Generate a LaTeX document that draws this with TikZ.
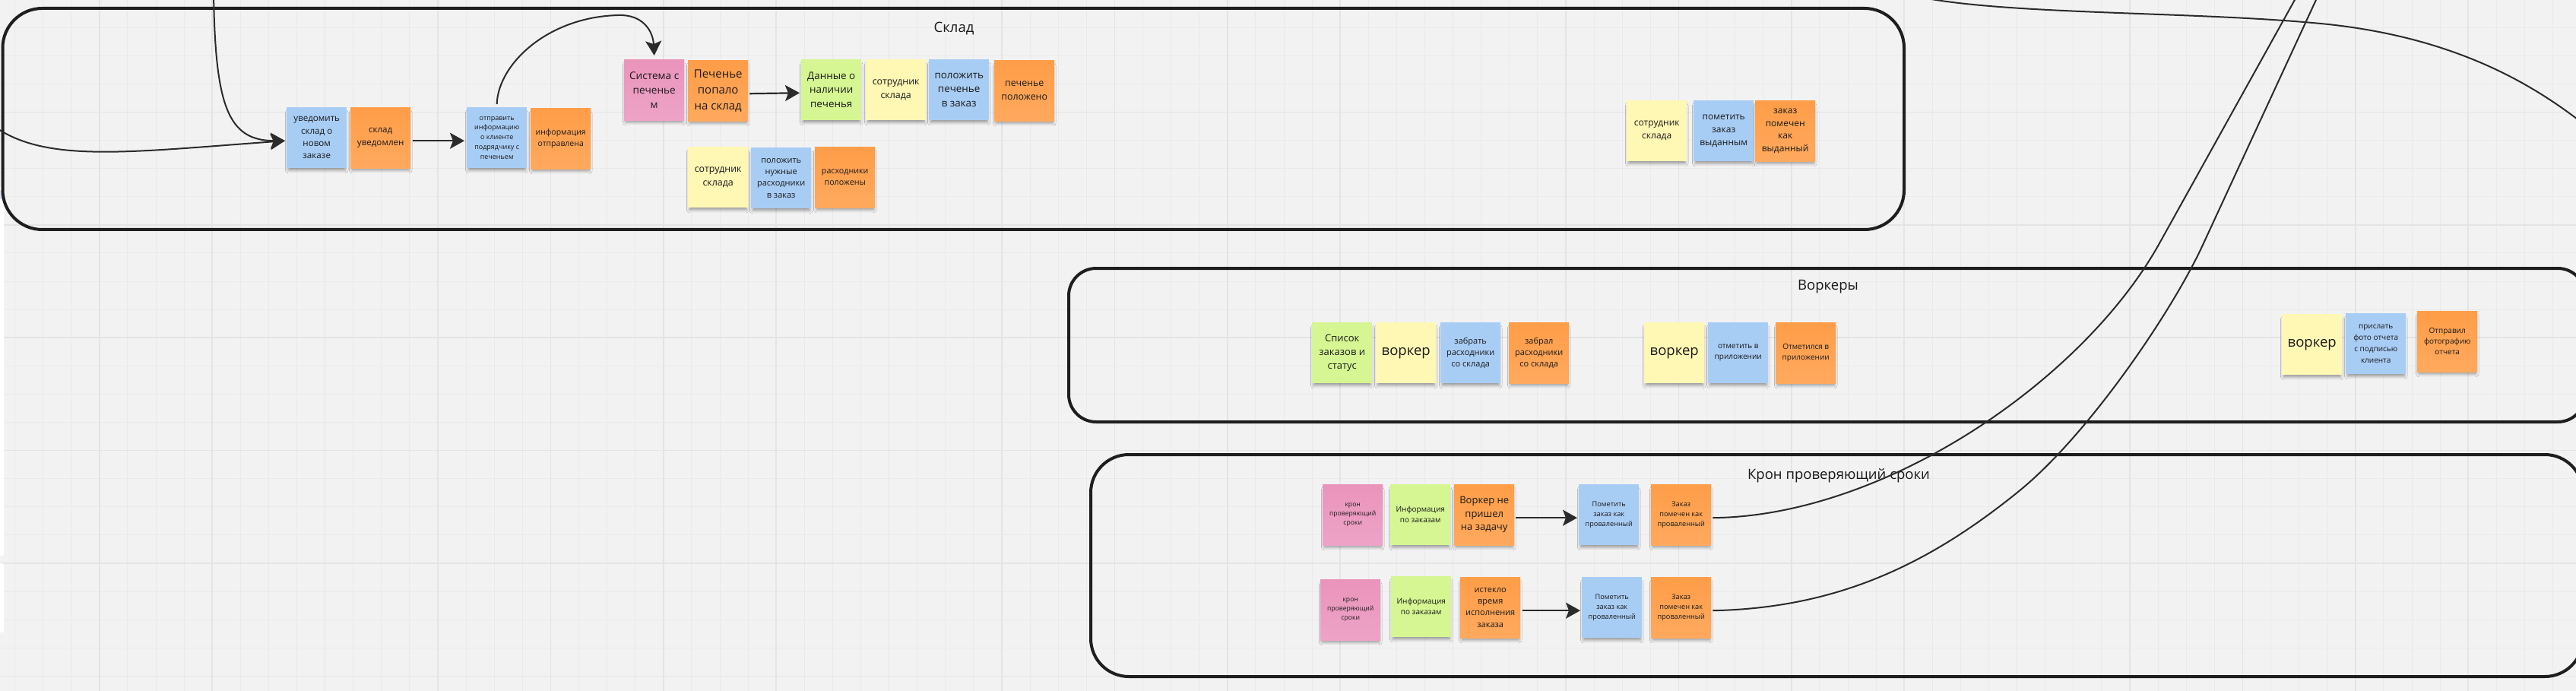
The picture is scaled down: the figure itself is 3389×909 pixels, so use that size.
\documentclass[tikz,border=0pt]{standalone}
\usepackage{fontspec}
\setmainfont{Open Sans}
\usetikzlibrary{arrows.meta,shadows.blur,calc}
\definecolor{bg}{HTML}{F2F2F2}
\definecolor{gridminor}{HTML}{EAEAEA}
\definecolor{gridmajor}{HTML}{E4E4E4}
\definecolor{ink}{HTML}{1A1A1A}
\definecolor{framec}{HTML}{1E1E1E}
\definecolor{arrc}{HTML}{2B2B2B}
\definecolor{cblue}{HTML}{A8CDF5}
\definecolor{corange}{HTML}{FF9D48}
\definecolor{corangeb}{HTML}{FFA95E}
\definecolor{cyellow}{HTML}{FFF7B4}
\definecolor{cgreen}{HTML}{D5F692}
\definecolor{cpink}{HTML}{EA94BB}
\definecolor{cpinkb}{HTML}{EDA3C7}
\definecolor{stripblue}{HTML}{DDE3F8}
\begin{document}
\begin{tikzpicture}[x=1pt,y=-1pt,
  note/.style={anchor=north west, minimum width=79pt, minimum height=80pt,
    inner sep=1pt, align=center, text=ink,
    blur shadow={shadow xshift=0pt, shadow yshift=-5pt, shadow scale=0.95,
      shadow opacity=38, shadow blur radius=4pt, shadow blur steps=6}},
  fs/.style 2 args={font=\fontsize{#1}{#2}\selectfont},
  nblue/.style={note, fill=cblue},
  norange/.style={note, top color=corange, bottom color=corangeb},
  nyellow/.style={note, fill=cyellow},
  ngreen/.style={note, fill=cgreen},
  npink/.style={note, top color=cpink, bottom color=cpinkb},
  frame/.style={draw=framec, line width=4pt},
  title/.style={text=ink, font=\fontsize{18.5}{22}\selectfont, inner sep=0pt},
  conn/.style={draw=arrc, line width=2pt},
  arr/.style={draw=arrc, line width=2.2pt, -{Stealth[length=19pt,width=21pt,inset=4pt]}},
  carr/.style={draw=arrc, line width=2pt, -{Stealth[length=19pt,width=21pt,inset=4pt]}}
]
\useasboundingbox (0,0) rectangle (3389,909);
\clip (0,0) rectangle (3389,909);
% background and grid
\fill[bg] (0,0) rectangle (3389,909);
\foreach \k in {0,...,91} {
  \pgfmathsetmacro\xx{19.5+37.1*\k}
  \draw[gridminor, line width=1pt] (\xx,0) -- (\xx,909);
}
\foreach \k in {0,...,24} {
  \pgfmathsetmacro\yy{-1+37.1*\k}
  \draw[gridminor, line width=1pt] (0,\yy) -- (3389,\yy);
}
\foreach \k in {3,7,...,91} {
  \pgfmathsetmacro\xx{19.5+37.1*\k}
  \draw[gridmajor, line width=1.6pt] (\xx,0) -- (\xx,909);
}
\foreach \k in {0,4,...,24} {
  \pgfmathsetmacro\yy{-1+37.1*\k}
  \draw[gridmajor, line width=1.6pt] (0,\yy) -- (3389,\yy);
}
% left edge strips
\fill[white, rounded corners=2pt] (-4,246) rectangle (5,731);
\fill[white, rounded corners=2pt] (-4,741) rectangle (5,832);
\fill[stripblue] (-4,250) rectangle (5,262);

% frames
\draw[frame, rounded corners=52pt] (3.5,11) rectangle (2505,302);
\draw[frame, rounded corners=36pt] (1406,353) rectangle (3401,555);
\draw[frame, rounded corners=50pt] (1435,598) rectangle (3398,890);

% titles
\node[title] (tsklad) at (1255,38) {Склад};
\node[title] (tvork) at (2405,377) {Воркеры};
\node[title] (tkron) at (2419,626) {Крон проверяющий сроки};

% Склад notes
\node[nblue, fs={11.6}{16.3}] (u1) at (377,141) {уведомить\\склад о\\новом\\заказе};
\node[norange, fs={11.6}{16.3}] (u2) at (461,141) {склад\\уведомлен};
\node[nblue, fs={9}{12.7}] (u3) at (614,141) {отправить\\информацию\\о клиенте\\подрядчику с\\печеньем};
\node[norange, fs={10.5}{14.5}] (u4) at (698,142) {информация\\отправлена};
\node[npink, fs={13.6}{19}] (s1) at (821,78) {Система с\\печенье\\м};
\node[norange, fs={15}{21}] (s2) at (905,79) {Печенье\\попало\\на склад};
\node[ngreen, fs={13.4}{18.7}] (d1) at (1054,78) {Данные о\\наличии\\печенья};
\node[nyellow, fs={12.4}{17.3}] (d2) at (1139,78) {сотрудник\\склада};
\node[nblue, fs={13.4}{18.7}] (d3) at (1222,78) {положить\\печенье\\в заказ};
\node[norange, fs={12.4}{17.3}] (d4) at (1308,79) {печенье\\положено};
\node[nyellow, fs={12.4}{17.3}] (r1) at (905,193) {сотрудник\\склада};
\node[nblue, fs={11}{15.3}] (r2) at (988,194) {положить\\нужные\\расходники\\в заказ};
\node[norange, fs={10.7}{15}] (r3) at (1072,193) {расходники\\положены};
\node[nyellow, fs={12}{17}] (v1) at (2140,132) {сотрудник\\склада};
\node[nblue, fs={12}{16.7}] (v2) at (2228,132) {пометить\\заказ\\выданным};
\node[norange, fs={12}{16.7}] (v3) at (2309,132) {заказ\\помечен\\как\\выданный};

% Воркеры notes
\node[ngreen, fs={13}{18.3}] (w1) at (1726,424) {Список\\заказов и\\статус};
\node[nyellow, fs={18.5}{22}] (w2) at (1810,424) {воркер};
\node[nblue, fs={11}{15}] (w3) at (1895,424) {забрать\\расходники\\со склада};
\node[norange, fs={11}{15}] (w4) at (1985,424) {забрал\\расходники\\со склада};
\node[nyellow, fs={18.5}{22}] (w5) at (2163,424) {воркер};
\node[nblue, fs={10}{13.5}] (w6) at (2247,424) {отметить в\\приложении};
\node[norange, fs={10}{13.5}] (w7) at (2336,424) {Отметился в\\приложении};
\node[nyellow, fs={18.5}{22}] (w8) at (3002,413) {воркер};
\node[nblue, fs={10}{15}] (w9) at (3086,412) {прислать\\фото отчета\\с подписью\\клиента};
\node[norange, fs={10}{14}] (w10) at (3180,409) {Отправил\\фотографию\\отчета};

% Крон notes
\node[npink, fs={8.6}{12}] (k1) at (1740,637) {крон\\проверяющий\\сроки};
\node[ngreen, fs={10}{14}] (k2) at (1829,637) {Информация\\по заказам};
\node[norange, fs={13}{17.7}] (k3) at (1913,637) {Воркер не\\пришел\\на задачу};
\node[nblue, fs={9.2}{12.7}] (k4) at (2077,637) {Пометить\\заказ как\\проваленный};
\node[norange, fs={9.2}{12.7}] (k5) at (2172,637) {Заказ\\помечен как\\проваленный};
\node[npink, fs={8.6}{12}] (m1) at (1737,762) {крон\\проверяющий\\сроки};
\node[ngreen, fs={10}{14}] (m2) at (1830,758) {Информация\\по заказам};
\node[norange, fs={11}{15.3}] (m3) at (1921,759) {истекло\\время\\исполнения\\заказа};
\node[nblue, fs={9.2}{12.7}] (m4) at (2081,759) {Пометить\\заказ как\\проваленный};
\node[norange, fs={9.2}{12.7}] (m5) at (2172,759) {Заказ\\помечен как\\проваленный};

% free ends
\coordinate (topA) at (281,-10);
\coordinate (leftB) at (-8,166);
\coordinate (endH) at (3025,-11);
\coordinate (endI) at (3052,-11);
\coordinate (topJ) at (2530,-3);
\coordinate (rightJ) at (3395,160);

% connectors
\draw[carr] (topA) .. controls (283,140) and (300,185) .. ([xshift=-2pt,yshift=-4pt]u1.west);
\draw[carr] (leftB) .. controls (60,215) and (170,200) .. ([xshift=-2pt,yshift=-4pt]u1.west);
\draw[arr] ([xshift=3pt,yshift=-4pt]u2.east) -- ([xshift=-3pt,yshift=-4pt]u3.west);
\draw[carr] ([yshift=4pt]u3.north) .. controls (655,85) and (720,22) .. (814,20)
   .. controls (845,19) and (859,40) .. ([yshift=5pt]s1.north);
\draw[arr] ([xshift=2pt,yshift=-4pt]s2.east) -- ([xshift=-2pt,yshift=-4pt]d1.west);
\draw[arr] ([xshift=2pt,yshift=-4pt]k3.east) -- ([xshift=-2pt,yshift=-4pt]k4.west);
\draw[arr] ([xshift=3pt,yshift=-4pt]m3.east) -- ([xshift=-2pt,yshift=-4pt]m4.west);
\draw[conn] ([xshift=2pt,yshift=-4pt]k5.east) .. controls (2480,679) and (2741,500) .. (2841,320) -- (endH);
\draw[conn] ([xshift=2pt,yshift=-4pt]m5.east) .. controls (2420,800) and (2540,740) .. (2655,647)
   .. controls (2747,573) and (2859,408) .. (2899,320) -- (endI);
\draw[conn] (topJ) .. controls (2650,20) and (2900,15) .. (3063,32)
   .. controls (3230,50) and (3330,110) .. (rightJ);
\end{tikzpicture}
\end{document}
